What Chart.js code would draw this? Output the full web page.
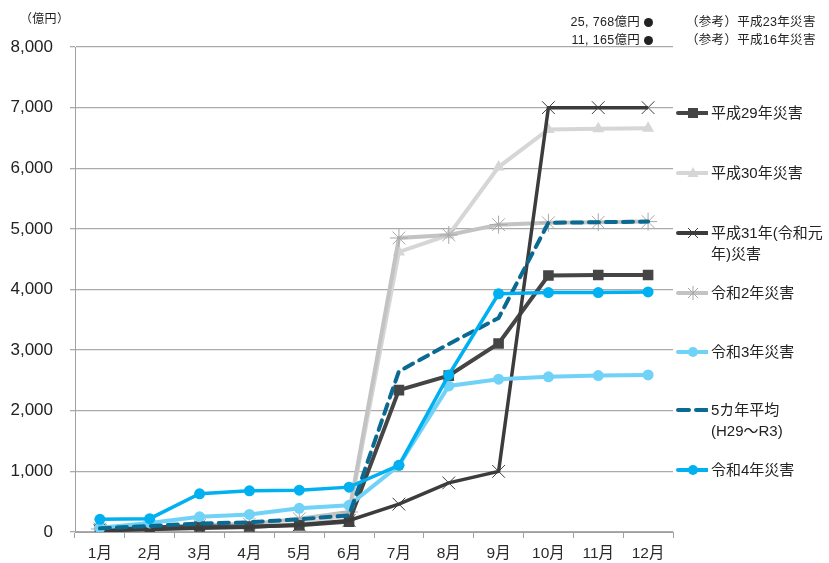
<!DOCTYPE html>
<html>
<head>
<meta charset="utf-8">
<script src="https://cdn.jsdelivr.net/npm/chart.js@4/dist/chart.umd.min.js"></script>
<style>
  html, body { margin: 0; padding: 0; background: #fff; }
  #wrap { position: relative; width: 829px; height: 563px; font-family: "Liberation Sans", "Noto Sans CJK JP", sans-serif; color: #222; }
  #c { position: absolute; left: 0; top: 0; }
  .note { position: absolute; font-size: 12.5px; line-height: 18px; white-space: nowrap; color: #222; letter-spacing: 0.3px; }
  .dot { display: inline-block; width: 9px; height: 9px; border-radius: 50%; background: #222; margin-left: 4px; vertical-align: -0.5px; }
  .leg { position: absolute; left: 676px; display: flex; align-items: flex-start; font-size: 15px; line-height: 21px; color: #222; }
  .leg svg { flex: none; }
  .leg span { margin-left: 3px; }
</style>
</head>
<body>
<div id="wrap">
  <canvas id="c" width="829" height="563"></canvas>
  <div class="note" style="left:20px; top:10px; font-size:12px;">（億円）</div>
  <div class="note" style="right:176px; top:13px;">25, 768億円<span class="dot"></span></div>
  <div class="note" style="right:176px; top:31px;">11, 165億円<span class="dot"></span></div>
  <div class="note" style="left:686px; top:13px;">（参考）平成23年災害</div>
  <div class="note" style="left:686px; top:31px;">（参考）平成16年災害</div>
</div>
<script>
const months = ["1月","2月","3月","4月","5月","6月","7月","8月","9月","10月","11月","12月"];
const yTicks = [0, 1000, 2000, 3000, 4000, 5000, 6000, 7000, 8000];

const seriesNames = ["平成29年災害","平成30年災害","平成31年(令和元年)災害","令和2年災害","令和3年災害","5カ年平均(H29～R3)","令和4年災害"];
const legendLines = [["平成29年災害"],["平成30年災害"],["平成31年(令和元","年)災害"],["令和2年災害"],["令和3年災害"],["5カ年平均","(H29～R3)"],["令和4年災害"]];

const h29 = [50, 80, 90, 90, 110, 170, 2340, 2580, 3110, 4230, 4240, 4240];
const h30 = [40, 50, 80, 100, 130, 280, 4620, 4900, 6020, 6640, 6650, 6660];
const h31 = [20, 40, 60, 80, 120, 190, 460, 810, 1000, 7000, 7000, 7000];
const r2  = [50, 70, 110, 130, 220, 330, 4850, 4900, 5070, 5100, 5110, 5120];
const r3  = [70, 150, 250, 290, 390, 440, 1100, 2410, 2520, 2560, 2580, 2590];
const avg = [60, 100, 140, 160, 210, 275, 2650, 3100, 3530, 5100, 5110, 5120];
const r4  = [210, 220, 630, 680, 690, 740, 1100, 2590, 3930, 3950, 3950, 3960];

const styles = [
  {data: h29, color: "#454545", pointStyle: "rect", radius: 7.5, pbw: 0, width: 4, order: 4},
  {data: h30, color: "#d6d6d6", pointStyle: "triangle", radius: 7, pbw: 0, width: 4, order: 6},
  {data: h31, color: "#3c3c3c", pointStyle: "crossRot", radius: 9, pbw: 1, width: 3.5, order: 3},
  {data: r2,  color: "#c3c3c3", pointStyle: "star", radius: 9, pbw: 1, width: 4, order: 5},
  {data: r3,  color: "#70d2f6", pointStyle: "circle", radius: 5.5, pbw: 0, width: 4, order: 2},
  {data: avg, color: "#0b6a92", pointStyle: false, radius: 0, pbw: 0, width: 4, dash: [10, 7], order: 1},
  {data: r4,  color: "#00b0f0", pointStyle: "circle", radius: 5.5, pbw: 0, width: 3.5, order: 0}
];
const legendY = [102, 162, 222, 282, 341, 399, 459];

const datasets = styles.map((s, i) => ({
  label: seriesNames[i],
  data: s.data,
  borderColor: s.color,
  backgroundColor: s.color,
  borderWidth: s.width,
  borderDash: s.dash || [],
  borderCapStyle: s.dash ? "round" : "butt",
  pointStyle: s.pointStyle,
  pointRadius: s.radius,
  pointBorderWidth: s.pbw,
  pointBorderColor: s.pointStyle === "star" ? "#a8a8a8" : s.color,
  pointBackgroundColor: s.color,
  tension: 0,
  order: s.order
}));

new Chart(document.getElementById("c"), {
  type: "line",
  data: { labels: months, datasets },
  options: {
    responsive: false,
    animation: false,
    layout: { padding: { top: 47, right: 156, left: 0, bottom: 0 } },
    plugins: { legend: { display: false }, tooltip: { enabled: false } },
    scales: {
      x: {
        offset: true,
        grid: { drawOnChartArea: false, drawTicks: true, tickLength: 6, color: "#a0a0a0", offset: true },
        border: { color: "#a0a0a0", width: 1 },
        ticks: { color: "#2a2a2a", font: { family: "Liberation Sans, Noto Sans CJK JP", size: 15.5 }, padding: 6, maxRotation: 0 },
        afterFit: s => { s.height = 31; }
      },
      y: {
        min: 0, max: 8000,
        afterBuildTicks: s => { s.ticks = yTicks.map(v => ({ value: v })); },
        grid: { color: "#ababab", lineWidth: 1.3, tickLength: 5, drawTicks: true },
        border: { color: "#a0a0a0", width: 1 },
        ticks: { color: "#222", font: { family: "Liberation Sans", size: 17 }, padding: 17,
                 callback: v => v.toLocaleString("en-US") },
        afterFit: s => { s.width = 75; }
      }
    }
  }
});

// HTML legend
const wrap = document.getElementById("wrap");
styles.forEach((s, i) => {
  const d = document.createElement("div");
  d.className = "leg";
  d.style.top = legendY[i] + "px";
  const ns = "http://www.w3.org/2000/svg";
  const svg = document.createElementNS(ns, "svg");
  svg.setAttribute("width", "32"); svg.setAttribute("height", "21");
  const cy = 11, cx = 17;
  const line = document.createElementNS(ns, "line");
  line.setAttribute("x1", "2"); line.setAttribute("x2", "32");
  line.setAttribute("y1", cy); line.setAttribute("y2", cy);
  line.setAttribute("stroke", s.color); line.setAttribute("stroke-width", "4");
  line.setAttribute("stroke-linecap", "round");
  if (s.dash) line.setAttribute("stroke-dasharray", "11 7");
  svg.appendChild(line);
  let m = null;
  if (s.pointStyle === "rect") {
    m = document.createElementNS(ns, "rect");
    m.setAttribute("x", cx - 5); m.setAttribute("y", cy - 5); m.setAttribute("width", 10); m.setAttribute("height", 10);
    m.setAttribute("fill", s.color);
  } else if (s.pointStyle === "triangle") {
    m = document.createElementNS(ns, "polygon");
    m.setAttribute("points", `${cx},${cy-6} ${cx+5.5},${cy+4} ${cx-5.5},${cy+4}`);
    m.setAttribute("fill", s.color);
  } else if (s.pointStyle === "circle") {
    m = document.createElementNS(ns, "circle");
    m.setAttribute("cx", cx); m.setAttribute("cy", cy); m.setAttribute("r", 5);
    m.setAttribute("fill", s.color);
  } else if (s.pointStyle === "crossRot" || s.pointStyle === "star") {
    m = document.createElementNS(ns, "path");
    let p = `M${cx-5},${cy-5}L${cx+5},${cy+5}M${cx-5},${cy+5}L${cx+5},${cy-5}`;
    if (s.pointStyle === "star") p += `M${cx},${cy-7}L${cx},${cy+7}`;
    m.setAttribute("d", p);
    m.setAttribute("stroke", s.pointStyle === "star" ? "#a8a8a8" : s.color);
    m.setAttribute("stroke-width", "1");
    m.setAttribute("fill", "none");
  }
  if (m) svg.appendChild(m);
  d.appendChild(svg);
  const t = document.createElement("span");
  t.innerHTML = legendLines[i].join("<br>");
  d.appendChild(t);
  wrap.appendChild(d);
});
</script>
</body>
</html>
